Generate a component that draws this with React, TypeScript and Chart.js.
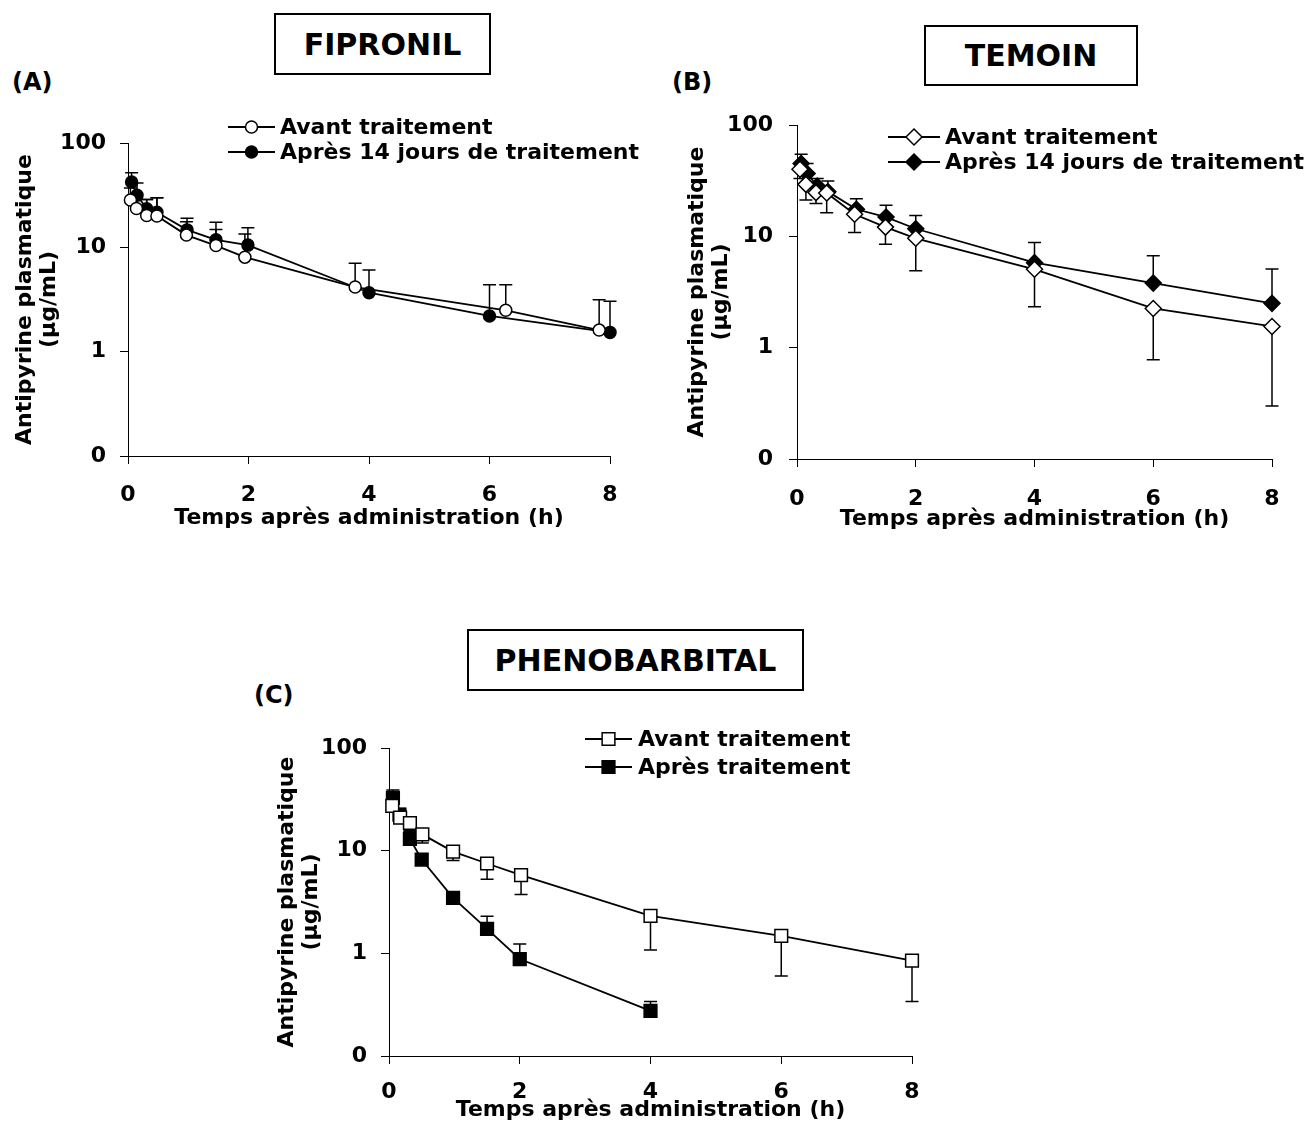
import { useEffect, useRef } from 'react';
import { Chart, registerables } from 'chart.js';

Chart.register(...registerables);

const FONT = "'DejaVu Sans', Verdana, sans-serif";

// ---- shared axes ----
const xTickValues = [0, 2, 4, 6, 8];
const yTickValues = [0.1, 1, 10, 100];
const yTickLabels = ['0', '1', '10', '100'];
const yAxisTitle = ['Antipyrine plasmatique', '(µg/mL)'];
const xAxisTitle = 'Temps après administration (h)';

// ---- Panel A : FIPRONIL ----
const fipAvantTime = [0.04, 0.14, 0.31, 0.48, 0.97, 1.46, 1.94, 3.77, 6.27, 7.82];
const fipAvant = [28.4, 23.6, 20.2, 20.0, 13.1, 10.4, 8.05, 4.16, 2.49, 1.61];
const fipAvantErr = [37, 29, 28.8, 29.9, 17.6, 14.8, 13.4, 7.05, 4.37, 3.15];
const fipApresTime = [0.06, 0.15, 0.31, 0.48, 0.98, 1.46, 1.99, 4.0, 6.0, 8.0];
const fipApres = [42.3, 31.6, 23.4, 21.7, 14.7, 11.8, 10.5, 3.67, 2.2, 1.53];
const fipApresErr = [52, 41.3, 28.8, 29.9, 19, 17.4, 15.4, 6.08, 4.37, 3.04];

// ---- Panel B : TEMOIN ----
const temAvantTime = [0.05, 0.15, 0.32, 0.5, 0.97, 1.49, 2.0, 4.0, 6.0, 8.0];
const temAvant = [40, 29.3, 24.7, 24.5, 15.8, 12.1, 9.6, 5.06, 2.25, 1.55];
const temAvantErr = [33, 21.2, 19.7, 16.3, 10.8, 8.5, 4.9, 2.33, 0.78, 0.3];
const temApresTime = [0.07, 0.17, 0.34, 0.52, 1.0, 1.5, 2.0, 4.0, 6.0, 8.0];
const temApres = [45, 36.6, 28.3, 25.2, 17.5, 14.9, 11.7, 5.8, 3.8, 2.5];
const temApresErr = [54.5, 45, 33, 31.4, 21.8, 19.0, 15.4, 8.8, 6.7, 5.1];

// ---- Panel C : PHENOBARBITAL ----
const pheAvantTime = [0.05, 0.17, 0.32, 0.51, 0.98, 1.5, 2.02, 4.0, 6.0, 8.0];
const pheAvant = [27.3, 21, 18.6, 14.4, 9.8, 7.5, 5.77, 2.32, 1.48, 0.85];
const pheAvantErr = [25, 19.5, 15.7, 11.9, 8.0, 5.26, 3.75, 1.08, 0.6, 0.34];
const pheApresTime = [0.06, 0.16, 0.32, 0.5, 0.98, 1.5, 2.0, 4.0];
const pheApres = [32.7, 22.4, 13.0, 8.2, 3.47, 1.73, 0.88, 0.275];
const pheApresErr = [38.9, 25.7, 15.4, 9.3, 3.98, 2.3, 1.23, 0.34];

type Series = {
  label: string;
  xs: number[];
  ys: number[];
  err: number[];
  style: 'circle' | 'rectRot' | 'rect';
  radius: number;
  filled: boolean;
};

type PanelSpec = {
  left: number;
  top: number;
  w: number;
  h: number;
  pad: { left: number; right: number; top: number; bottom: number };
  yWidth: number;
  xHeight: number;
  yTitlePad: number;
  xTitlePad: number;
  yTickPad: number;
  xTickPad: number;
  legend: { x1: number; x2: number; textX: number; rows: number[] };
  series: Series[];
};

const panels: PanelSpec[] = [
  {
    left: 0, top: 100, w: 650, h: 440,
    pad: { left: 10, right: 40, top: 43, bottom: 0 },
    yWidth: 118, xHeight: 84, yTitlePad: 3, xTitlePad: 10, yTickPad: 14, xTickPad: 18,
    legend: { x1: 228, x2: 275, textX: 280, rows: [27, 52] },
    series: [
      { label: 'Avant traitement', xs: fipAvantTime, ys: fipAvant, err: fipAvantErr, style: 'circle', radius: 6, filled: false },
      { label: 'Après 14 jours de traitement', xs: fipApresTime, ys: fipApres, err: fipApresErr, style: 'circle', radius: 6, filled: true },
    ],
  },
  {
    left: 660, top: 95, w: 646, h: 445,
    pad: { left: 20, right: 34, top: 30, bottom: 0 },
    yWidth: 117, xHeight: 81, yTitlePad: 5, xTitlePad: 9, yTickPad: 16, xTickPad: 19,
    legend: { x1: 228, x2: 280, textX: 285, rows: [42, 67] },
    series: [
      { label: 'Avant traitement', xs: temAvantTime, ys: temAvant, err: temAvantErr, style: 'rectRot', radius: 8, filled: false },
      { label: 'Après 14 jours de traitement', xs: temApresTime, ys: temApres, err: temApresErr, style: 'rectRot', radius: 8, filled: true },
    ],
  },
  {
    left: 250, top: 700, w: 720, h: 428,
    pad: { left: 20, right: 58, top: 48, bottom: 0 },
    yWidth: 119, xHeight: 72, yTitlePad: 5, xTitlePad: 6, yTickPad: 14, xTickPad: 15,
    legend: { x1: 335, x2: 382, textX: 388, rows: [39, 67] },
    series: [
      { label: 'Avant traitement', xs: pheAvantTime, ys: pheAvant, err: pheAvantErr, style: 'rect', radius: 9, filled: false },
      { label: 'Après traitement', xs: pheApresTime, ys: pheApres, err: pheApresErr, style: 'rect', radius: 9, filled: true },
    ],
  },
];

function drawMarker(ctx: CanvasRenderingContext2D, style: string, x: number, y: number, r: number, filled: boolean) {
  ctx.beginPath();
  if (style === 'circle') {
    ctx.arc(x, y, r, 0, Math.PI * 2);
  } else if (style === 'rectRot') {
    ctx.moveTo(x, y - r);
    ctx.lineTo(x + r, y);
    ctx.lineTo(x, y + r);
    ctx.lineTo(x - r, y);
    ctx.closePath();
  } else {
    const s = r * Math.SQRT1_2;
    ctx.rect(x - s, y - s, 2 * s, 2 * s);
  }
  ctx.fillStyle = filled ? '#000' : '#fff';
  ctx.fill();
  ctx.lineWidth = 1.5;
  ctx.strokeStyle = '#000';
  ctx.stroke();
}

const errorBarPlugin = {
  id: 'errorBars',
  beforeDatasetsDraw(chart: any) {
    const ctx: CanvasRenderingContext2D = chart.ctx;
    const xs = chart.scales.x;
    const ys = chart.scales.y;
    ctx.save();
    ctx.strokeStyle = '#000';
    ctx.lineWidth = 1.5;
    chart.data.datasets.forEach((ds: any) => {
      (ds.errorBars as number[]).forEach((e, i) => {
        const p = ds.data[i];
        const px = xs.getPixelForValue(p.x);
        const py = ys.getPixelForValue(p.y);
        const pe = ys.getPixelForValue(e);
        ctx.beginPath();
        ctx.moveTo(px, py);
        ctx.lineTo(px, pe);
        ctx.moveTo(px - 6.5, pe);
        ctx.lineTo(px + 6.5, pe);
        ctx.stroke();
      });
    });
    ctx.restore();
  },
};

const legendPlugin = {
  id: 'customLegend',
  afterDatasetsDraw(chart: any, _args: any, opts: any) {
    const ctx: CanvasRenderingContext2D = chart.ctx;
    chart.data.datasets.forEach((ds: any, i: number) => {
      const y = opts.rows[i];
      ctx.save();
      ctx.strokeStyle = '#000';
      ctx.lineWidth = 1.8;
      ctx.beginPath();
      ctx.moveTo(opts.x1, y);
      ctx.lineTo(opts.x2, y);
      ctx.stroke();
      drawMarker(ctx, ds.pointStyle, (opts.x1 + opts.x2) / 2, y, ds.pointRadius, ds.filled);
      ctx.fillStyle = '#000';
      ctx.font = `bold 22px ${FONT}`;
      ctx.textBaseline = 'middle';
      ctx.textAlign = 'left';
      ctx.fillText(ds.label, opts.textX, y + 1);
      ctx.restore();
    });
  },
};

function buildConfig(spec: PanelSpec): any {
  const tickFont = { family: FONT, size: 22, weight: 'bold' as const };
  const titleFont = { family: FONT, size: 22, weight: 'bold' as const, lineHeight: 1.1 };
  return {
    type: 'scatter',
    data: {
      datasets: spec.series.map((s) => ({
        label: s.label,
        data: s.xs.map((x, i) => ({ x, y: s.ys[i] })),
        errorBars: s.err,
        filled: s.filled,
        showLine: true,
        borderColor: '#000',
        borderWidth: 1.8,
        backgroundColor: s.filled ? '#000' : '#fff',
        pointStyle: s.style,
        pointRadius: s.radius,
        pointBorderWidth: 1.5,
        pointBorderColor: '#000',
        pointBackgroundColor: s.filled ? '#000' : '#fff',
        clip: false,
      })),
    },
    options: {
      responsive: false,
      animation: false,
      events: [],
      layout: { padding: spec.pad },
      plugins: {
        legend: { display: false },
        tooltip: { enabled: false },
        customLegend: spec.legend,
      },
      scales: {
        x: {
          type: 'linear',
          min: 0,
          max: 8,
          afterBuildTicks: (s: any) => {
            s.ticks = xTickValues.map((v) => ({ value: v }));
          },
          afterFit: (s: any) => {
            s.height = spec.xHeight;
          },
          ticks: {
            color: '#000',
            font: tickFont,
            padding: spec.xTickPad,
            maxRotation: 0,
            autoSkip: false,
            callback: (v: number) => String(v),
          },
          grid: { display: true, drawOnChartArea: false, drawTicks: true, tickLength: 8, color: '#000', lineWidth: 1 },
          border: { display: true, color: '#000', width: 1 },
          title: {
            display: true,
            text: xAxisTitle,
            color: '#000',
            font: titleFont,
            padding: { top: 0, bottom: spec.xTitlePad },
          },
        },
        y: {
          type: 'logarithmic',
          min: 0.1,
          max: 100,
          afterBuildTicks: (s: any) => {
            s.ticks = yTickValues.map((v) => ({ value: v }));
          },
          afterFit: (s: any) => {
            s.width = spec.yWidth;
          },
          ticks: {
            color: '#000',
            font: tickFont,
            padding: spec.yTickPad,
            autoSkip: false,
            callback: (v: number) => {
              const idx = yTickValues.findIndex((t) => Math.abs(t - v) < 1e-9);
              return idx >= 0 ? yTickLabels[idx] : '';
            },
          },
          grid: { display: true, drawOnChartArea: false, drawTicks: true, tickLength: 8, color: '#000', lineWidth: 1 },
          border: { display: true, color: '#000', width: 1 },
          title: {
            display: true,
            text: yAxisTitle,
            color: '#000',
            font: titleFont,
            padding: { top: spec.yTitlePad, bottom: 0 },
          },
        },
      },
    },
    plugins: [errorBarPlugin, legendPlugin],
  };
}

function Panel({ spec }: { spec: PanelSpec }) {
  const ref = useRef<HTMLCanvasElement>(null);
  useEffect(() => {
    if (!ref.current) return;
    const chart = new Chart(ref.current, buildConfig(spec));
    return () => chart.destroy();
  }, [spec]);
  return (
    <canvas
      ref={ref}
      width={spec.w}
      height={spec.h}
      style={{ position: 'absolute', left: spec.left, top: spec.top, width: spec.w, height: spec.h }}
    />
  );
}

const boxStyle = (left: number, top: number, width: number, height: number): any => ({
  position: 'absolute',
  left,
  top,
  width,
  height,
  boxSizing: 'border-box',
  border: '2px solid #000',
  display: 'flex',
  alignItems: 'center',
  justifyContent: 'center',
  fontFamily: FONT,
  fontWeight: 'bold',
  fontSize: 30,
  color: '#000',
  background: '#fff',
});

const labelStyle = (left: number, top: number): any => ({
  position: 'absolute',
  left,
  top,
  fontFamily: FONT,
  fontWeight: 'bold',
  fontSize: 24,
  lineHeight: '28px',
  color: '#000',
});

export default function App() {
  return (
    <div style={{ position: 'absolute', left: 0, top: 0, width: 1306, height: 1128, background: '#fff', overflow: 'hidden' }}>
      <div style={boxStyle(274, 13, 217, 62)}>FIPRONIL</div>
      <div style={boxStyle(924, 25, 214, 61)}>TEMOIN</div>
      <div style={boxStyle(467, 629, 337, 62)}>PHENOBARBITAL</div>
      <div style={labelStyle(12, 68)}>(A)</div>
      <div style={labelStyle(672, 68)}>(B)</div>
      <div style={labelStyle(254, 681)}>(C)</div>
      {panels.map((p, i) => (
        <Panel key={i} spec={p} />
      ))}
    </div>
  );
}
